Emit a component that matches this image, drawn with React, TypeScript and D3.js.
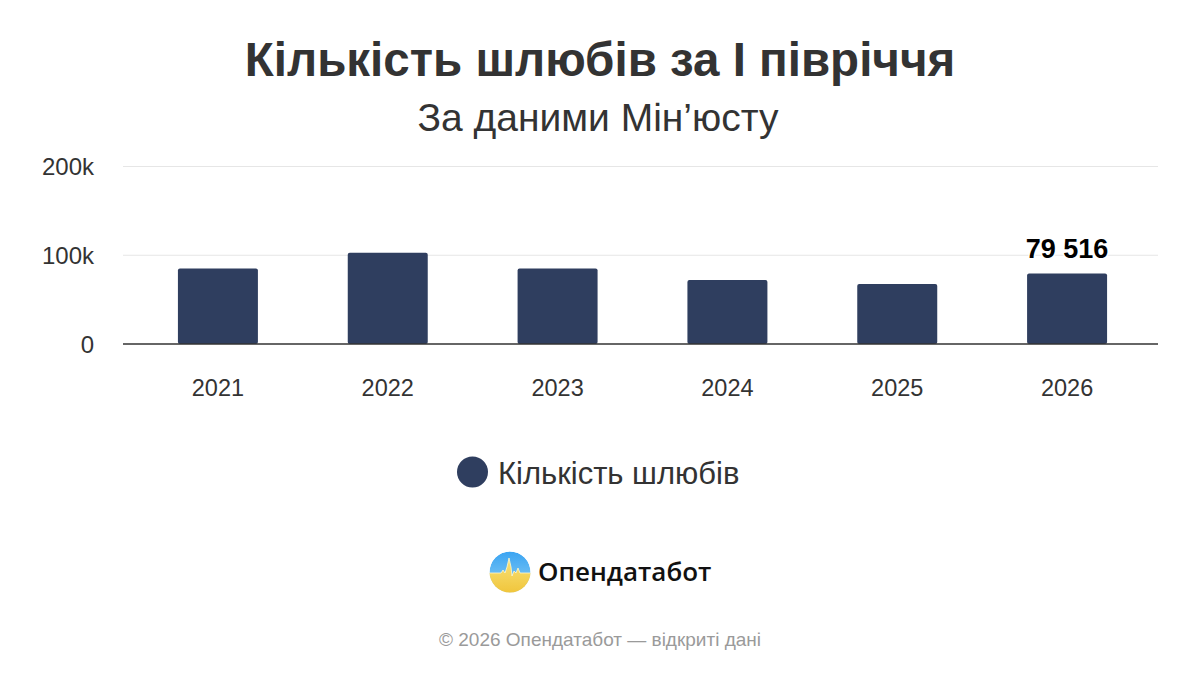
import React from "react";
import * as d3 from "d3";

const categories = ["2021", "2022", "2023", "2024", "2025", "2026"];
const marriages = [85000, 102700, 85000, 72200, 67600, 79516];
const yTicks = [0, 100000, 200000];
const yTickLabels = ["0", "100k", "200k"];
const labelledIndex = 5;

const W = 1200;
const H = 675;
const FONT = "'Liberation Sans', Arial, Helvetica, sans-serif";

export default function App() {
  const x = d3
    .scaleBand<string>()
    .domain(categories)
    .range([133, 1152])
    .paddingInner(0.529)
    .paddingOuter(0.2645);
  const y = d3.scaleLinear().domain([0, 200000]).range([344, 166.5]);
  const fmt = (v: number) => d3.format(",")(v).replace(/,/g, " ");
  const barColor = "#2f3e5f";

  const spikeTop = "M-22,0 L-9,0 L-7,-3 L-5,0 L-3,-6 L-1,-15 L1,-6 L2,3 L4,-2 L6,0 L8,-5 L10,0 L22,0";
  const spikeArea = spikeTop + " L22,24 L-22,24 Z";

  return (
    <svg width={W} height={H} style={{ position: "absolute", left: 0, top: 0, background: "#fff" }} fontFamily={FONT}>
      <defs>
        <linearGradient id="logoBlue" x1="0" y1="0" x2="0" y2="1">
          <stop offset="0" stopColor="#3aa4f2" />
          <stop offset="1" stopColor="#8fd0f5" />
        </linearGradient>
        <linearGradient id="logoYellow" x1="0" y1="0" x2="0" y2="1">
          <stop offset="0" stopColor="#f7e27a" />
          <stop offset="1" stopColor="#f0c234" />
        </linearGradient>
        <clipPath id="logoClip">
          <circle cx={510} cy={572} r={20.5} />
        </clipPath>
      </defs>
      <rect width={W} height={H} fill="#fff" />
      <text x={600} y={76} textAnchor="middle" fontSize={47.5} fontWeight="bold" fill="#333">
        Кількість шлюбів за І півріччя
      </text>
      <text x={598} y={131} textAnchor="middle" fontSize={39} fill="#333">
        За даними Мін’юсту
      </text>

      {yTicks.map((t, i) => (
        <g key={t}>
          {t !== 0 && <line x1={123} x2={1158} y1={y(t)} y2={y(t)} stroke="#e6e6e6" strokeWidth={1} />}
          <text x={94} y={y(t) + 8.8} textAnchor="end" fontSize={24} fill="#333">
            {yTickLabels[i]}
          </text>
        </g>
      ))}

      {categories.map((c, i) => (
        <g key={c}>
          <rect
            x={x(c)}
            y={y(marriages[i])}
            width={x.bandwidth()}
            height={y(0) - y(marriages[i])}
            rx={2}
            fill={barColor}
          />
          <text x={(x(c) as number) + x.bandwidth() / 2} y={396} textAnchor="middle" fontSize={23.5} fill="#333">
            {c}
          </text>
        </g>
      ))}
      <line x1={123} x2={1158} y1={y(0)} y2={y(0)} stroke="#333" strokeWidth={1.5} />

      <text
        x={(x(categories[labelledIndex]) as number) + x.bandwidth() / 2}
        y={y(marriages[labelledIndex]) - 15}
        textAnchor="middle"
        fontSize={27}
        fontWeight="bold"
        fill="#000"
        stroke="#fff"
        strokeWidth={3}
        paintOrder="stroke"
      >
        {fmt(marriages[labelledIndex])}
      </text>

      <circle cx={472.5} cy={472} r={15.5} fill={barColor} />
      <text x={498} y={484} fontSize={31} fill="#333">
        Кількість шлюбів
      </text>

      <g clipPath="url(#logoClip)">
        <circle cx={510} cy={572} r={20.5} fill="url(#logoBlue)" />
        <g transform="translate(510,573)">
          <path d={spikeArea} fill="url(#logoYellow)" />
          <path d={spikeTop} fill="none" stroke="#fff8d0" strokeWidth={0.8} strokeLinejoin="round" />
        </g>
      </g>
      <text x={538} y={581} fontSize={26} fontWeight={600} fill="#111" fontFamily="'Open Sans', 'Noto Sans', sans-serif">
        Опендатабот
      </text>

      <text x={600} y={646} textAnchor="middle" fontSize={19} fill="#9a9a9a">
        © 2026 Опендатабот — відкриті дані
      </text>
    </svg>
  );
}
